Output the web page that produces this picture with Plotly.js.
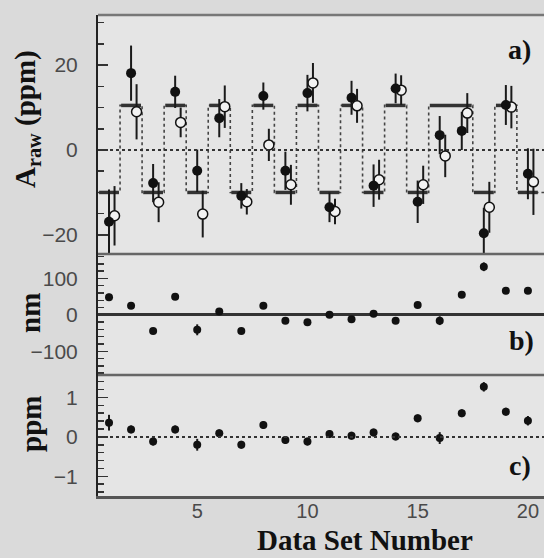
<!DOCTYPE html>
<html>
<head>
<meta charset="utf-8">
<script src="https://cdn.plot.ly/plotly-3.0.1.min.js"></script>
<style>html,body{margin:0;padding:0;background:#dadada;}#chart{width:544px;height:558px;}</style>
</head>
<body>
<div id="chart"></div>
<script>
// ---- data ----
const sets = [1,2,3,4,5,6,7,8,9,10,11,12,13,14,15,16,17,18,19,20];
const expectedLevel = [-10,10.5,-10,10.5,-10,10.5,-10,10.5,-10,10.5,-10,10.5,-10,10.5,-10,10.5,10.5,-10,10.5,-10];
const rawFilled    = [-16.9,18.1,-7.8,13.7,-4.9,7.5,-10.8,12.7,-4.9,13.4,-13.5,12.3,-8.4,14.5,-12.2,3.5,4.5,-19.6,10.6,-5.6];
const rawFilledErr = [7.6,6.5,4.5,3.8,5.0,4.5,3.0,3.2,4.5,4.3,3.5,4.0,5.0,3.5,5.0,4.5,4.5,6.0,4.7,6.0];
const rawOpen      = [-15.5,9.0,-12.3,6.5,-15.1,10.2,-12.2,1.2,-8.2,15.8,-14.5,10.4,-7.0,14.1,-8.2,-1.4,8.7,-13.5,10.1,-7.5];
const rawOpenErr   = [7.0,6.5,4.7,3.5,5.5,5.0,3.0,3.8,4.7,4.7,3.0,4.0,4.7,3.5,4.5,5.0,4.7,6.0,5.0,7.8];
const posDiff      = [48,25,-44,50,-41,9,-44,25,-16,-20,0,-12,3,-16,27,-16,55,132,66,66];
const posDiffErr   = [10,8,8,8,15,8,8,8,8,8,8,8,8,8,8,12,8,12,8,8];
const corr         = [0.36,0.19,-0.12,0.19,-0.2,0.09,-0.2,0.3,-0.08,-0.12,0.07,0.03,0.11,0.01,0.47,-0.03,0.6,1.27,0.64,0.41];
const corrErr      = [0.2,0.1,0.1,0.1,0.15,0.1,0.1,0.1,0.1,0.1,0.1,0.1,0.1,0.1,0.1,0.15,0.1,0.12,0.1,0.12];
const xTicks = [5,10,15,20];

// ---- geometry helpers ----
const L = 98, R = 0, T = 15, B = 62, W = 544, H = 558;
const pw = W - L - R, ph = H - T - B;
const px = p => (p - L) / pw;
const py = p => (H - B - p) / ph;
const dA = [py(254), 1], dB = [py(375), py(254)], dC = [0, py(375)];
const xMax = 20.73;
const openOff = 0.25;

// square wave (dotted)
const swX = sets.map(s => s - 0.5).concat([xMax]);
const swY = expectedLevel.concat([expectedLevel[expectedLevel.length - 1]]);

// solid bars: merge consecutive equal levels
const barX = [], barY = [];
let i = 0;
while (i < sets.length) {
  let j = i;
  while (j + 1 < sets.length && expectedLevel[j + 1] === expectedLevel[i]) j++;
  barX.push(Math.max(0.5, sets[i] - 0.45), sets[j] + 0.45, null);
  barY.push(expectedLevel[i], expectedLevel[i], null);
  i = j + 1;
}

const errStyle = (arr) => ({type:'data', array:arr, visible:true, width:0, thickness:2, color:'#1a1a1a'});
const filledMarker = {symbol:'circle', size:10, color:'#111'};
const smallMarker = {symbol:'circle', size:8, color:'#111'};

const traces = [
  {x: swX, y: swY, mode:'lines', line:{shape:'hv', dash:'dot', width:1.6, color:'#444'}, xaxis:'x', yaxis:'y', hoverinfo:'skip'},
  {x: barX, y: barY, mode:'lines', line:{width:3.5, color:'#333'}, xaxis:'x', yaxis:'y', hoverinfo:'skip'},
  {x: sets.map(s => s + openOff), y: rawOpen, mode:'markers', error_y: errStyle(rawOpenErr),
   marker:{symbol:'circle', size:10, color:'#f2f2f2', line:{width:1.5, color:'#111'}}, xaxis:'x', yaxis:'y'},
  {x: sets, y: rawFilled, mode:'markers', error_y: errStyle(rawFilledErr), marker: filledMarker, xaxis:'x', yaxis:'y'},
  {x: sets, y: posDiff, mode:'markers', error_y: errStyle(posDiffErr), marker: smallMarker, xaxis:'x', yaxis:'y2'},
  {x: sets, y: corr, mode:'markers', error_y: errStyle(corrErr), marker: smallMarker, xaxis:'x', yaxis:'y3'}
];

const tickFont = {family:'Liberation Sans, Arial, sans-serif', size:21, color:'#4a4a4a'};
const yCommon = {
  anchor:'x', ticks:'inside', ticklen:10, tickwidth:1.5, tickcolor:'#333',
  showline:true, linecolor:'#222', linewidth:2, showgrid:false, zeroline:false,
  tickfont: tickFont, ticklabelstandoff: 14, tickmode:'linear'
};

const titleFont = {family:'Liberation Serif, Times New Roman, serif', size:29, color:'#111'};
const labelFont = {family:'Liberation Serif, Times New Roman, serif', size:28, color:'#111'};

const layout = {
  width: W, height: H,
  margin: {l:L, r:R, t:T, b:B},
  paper_bgcolor:'#dadada', plot_bgcolor:'#e5e5e5',
  showlegend:false,
  xaxis: {domain:[0,1], range:[0.5, xMax], anchor:'y3', tickvals: xTicks, ticktext: xTicks.map(String),
          ticks:'', showline:true, linecolor:'#555', linewidth:2.5, showgrid:false, zeroline:false,
          tickfont: {family:tickFont.family, size:20, color:tickFont.color}, ticklabelstandoff:-5},
  yaxis: Object.assign({}, yCommon, {domain:dA, range:[-24.5, 31.8], tick0:-20, dtick:20,
          minor:{dtick:5, tick0:0, ticks:'inside', ticklen:6, tickcolor:'#333', showgrid:false}}),
  yaxis2: Object.assign({}, yCommon, {domain:dB, range:[-165, 167], tick0:-100, dtick:100,
          zeroline:true, zerolinecolor:'#333', zerolinewidth:3,
          minor:{dtick:20, tick0:0, ticks:'inside', ticklen:6, tickcolor:'#333', showgrid:false}}),
  yaxis3: Object.assign({}, yCommon, {domain:dC, range:[-1.5, 1.57], tick0:-1, dtick:1,
          minor:{dtick:0.2, tick0:0, ticks:'inside', ticklen:6, tickcolor:'#333', showgrid:false}}),
  shapes: [
    {type:'line', xref:'paper', yref:'paper', x0:0, x1:1, y0:1, y1:1, line:{color:'#777', width:2.5}},
    {type:'line', xref:'paper', yref:'paper', x0:0, x1:1, y0:dA[0], y1:dA[0], line:{color:'#666', width:2.5}},
    {type:'line', xref:'paper', yref:'paper', x0:0, x1:1, y0:dB[0], y1:dB[0], line:{color:'#666', width:2.5}},
    {type:'line', xref:'paper', yref:'y', x0:0, x1:1, y0:0, y1:0, line:{color:'#333', width:2, dash:'dot'}},
    {type:'line', xref:'paper', yref:'y3', x0:0, x1:1, y0:0, y1:0, line:{color:'#333', width:2, dash:'dot'}}
  ],
  annotations: [
    {text:'<b>A<sub>raw</sub> (ppm)</b>', xref:'paper', yref:'paper', x:px(27), y:py(119), textangle:-90,
     showarrow:false, font:titleFont, xanchor:'center', yanchor:'middle'},
    {text:'<b>nm</b>', xref:'paper', yref:'paper', x:px(30), y:py(313), textangle:-90,
     showarrow:false, font:titleFont, xanchor:'center', yanchor:'middle'},
    {text:'<b>ppm</b>', xref:'paper', yref:'paper', x:px(31), y:py(424), textangle:-90,
     showarrow:false, font:titleFont, xanchor:'center', yanchor:'middle'},
    {text:'<b>Data Set Number</b>', xref:'paper', yref:'paper', x:px(365), y:py(557),
     showarrow:false, font:{family:titleFont.family, size:29, color:'#111'}, xanchor:'center', yanchor:'bottom', borderpad:0},
    {text:'<b>a)</b>', xref:'paper', yref:'paper', x:px(519), y:py(50), showarrow:false, font:labelFont, xanchor:'center', yanchor:'middle'},
    {text:'<b>b)</b>', xref:'paper', yref:'paper', x:px(521), y:py(340), showarrow:false, font:labelFont, xanchor:'center', yanchor:'middle'},
    {text:'<b>c)</b>', xref:'paper', yref:'paper', x:px(520), y:py(465), showarrow:false, font:labelFont, xanchor:'center', yanchor:'middle'}
  ]
};

Plotly.newPlot('chart', traces, layout, {displayModeBar:false, staticPlot:true});
</script>
</body>
</html>
